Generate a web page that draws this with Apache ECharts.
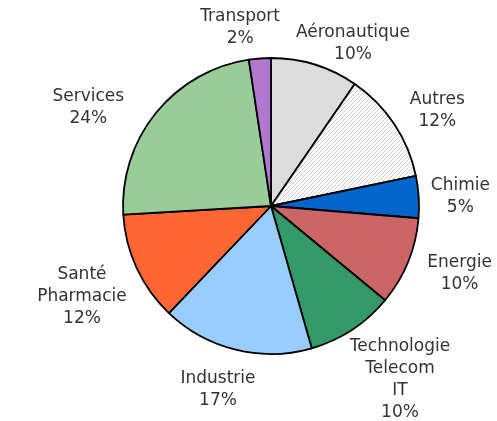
<!DOCTYPE html>
<html>
<head>
<meta charset="utf-8">
<script src="https://cdn.jsdelivr.net/npm/echarts@6/dist/echarts.min.js"></script>
<style>
  html, body { margin: 0; padding: 0; background: #fff; }
  #main { width: 497px; height: 421px; }
</style>
</head>
<body>
<div id="main"></div>
<script>
// secteurs, dans l'ordre des aiguilles d'une montre depuis midi
var categories = ['Aéronautique', 'Autres', 'Chimie', 'Energie', 'Technologie\nTelecom\nIT', 'Industrie', 'Santé\nPharmacie', 'Services', 'Transport'];
// parts en % (l'étiquette affiche la valeur arrondie)
var shares = [9.6, 12.2, 4.6, 9.7, 9.6, 16.6, 12.0, 23.6, 2.4];
var sliceColors = ['#dcdcdc', 'hatch', '#0066cc', '#cc6666', '#339966', '#99ccff', '#ff6633', '#99cc99', '#b278d0'];

// mise en page des étiquettes : décalage angulaire (degrés) et écart au bord du disque (px)
var labelShiftDeg = [9.6, 3.8, 0.5, -2.4, -3.5, 2.3, -0.8, -10.6, -5.5];
var labelGap = [9, 12, 12, 18, 13, 20, 12, 19, 11];

var cx = 271, cy = 206, radius = 148;

// motif hachuré pour "Autres"
function hatchPattern() {
  var c = document.createElement('canvas');
  c.width = 4;
  c.height = 4;
  var ctx = c.getContext('2d');
  ctx.fillStyle = '#ffffff';
  ctx.fillRect(0, 0, 4, 4);
  ctx.strokeStyle = '#cfcfcf';
  ctx.lineWidth = 1;
  ctx.beginPath();
  ctx.moveTo(0, 4); ctx.lineTo(4, 0);
  ctx.moveTo(-1, 1); ctx.lineTo(1, -1);
  ctx.moveTo(3, 5); ctx.lineTo(5, 3);
  ctx.stroke();
  return c;
}

var total = shares.reduce(function (a, b) { return a + b; }, 0);
var midAngles = [];
var cum = 0;
shares.forEach(function (v) {
  midAngles.push((cum + v / 2) / total * Math.PI * 2);
  cum += v;
});

var pieData = categories.map(function (name, i) {
  var col = sliceColors[i] === 'hatch' ? { image: hatchPattern(), repeat: 'repeat' } : sliceColors[i];
  return { name: name, value: shares[i], itemStyle: { color: col } };
});

var chart = echarts.init(document.getElementById('main'), null, { renderer: 'canvas' });
chart.setOption({
  animation: false,
  backgroundColor: '#ffffff',
  series: [{
    type: 'pie',
    center: [cx, cy],
    radius: [0, radius],
    startAngle: 90,
    clockwise: true,
    avoidLabelOverlap: false,
    data: pieData,
    itemStyle: {
      borderColor: '#000',
      borderWidth: 1.8
    },
    label: {
      show: true,
      position: 'outside',
      fontFamily: 'DejaVu Sans',
      fontSize: 17,
      lineHeight: 22,
      color: '#333',
      formatter: function (p) {
        return p.name + '\n' + Math.round(p.value) + '%';
      }
    },
    labelLine: { show: false },
    labelLayout: function (params) {
      var i = params.dataIndex;
      var a = midAngles[i] + labelShiftDeg[i] * Math.PI / 180;
      var ux = Math.sin(a), uy = -Math.cos(a);
      var w = params.labelRect.width, h = params.labelRect.height;
      var t = Math.min(w / 2 / Math.max(Math.abs(ux), 1e-6), h / 2 / Math.max(Math.abs(uy), 1e-6));
      var d = radius + labelGap[i] + t;
      return {
        x: cx + d * ux,
        y: cy + d * uy,
        align: 'center',
        verticalAlign: 'middle'
      };
    },
    emphasis: { disabled: true }
  }]
});
</script>
</body>
</html>
